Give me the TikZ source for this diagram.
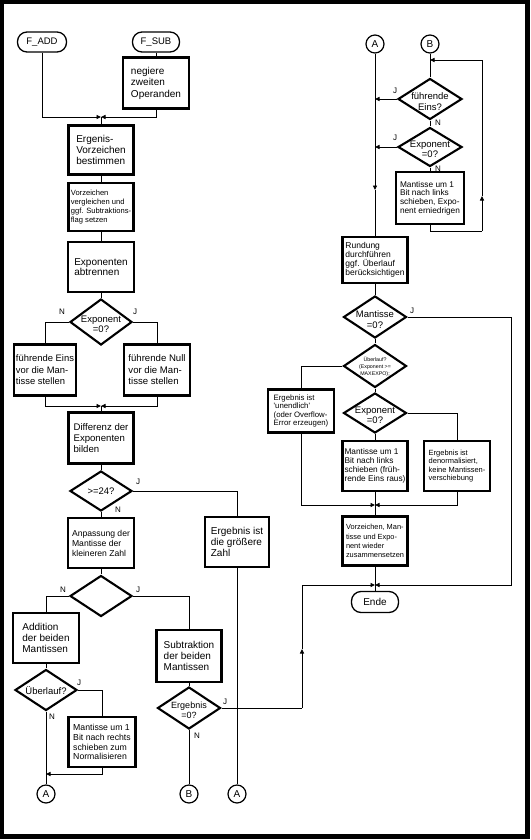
\documentclass[tikz,border=0pt]{standalone}
\usepackage{fontspec}
\setmainfont{Liberation Sans}
\usetikzlibrary{shapes.geometric,arrows.meta}
\newcommand\fsz[2]{\fontsize{#1}{#2}\selectfont}
\begin{document}
\begin{tikzpicture}[x=1pt,y=-1pt,
  box/.style={draw,line width=2.5pt,inner sep=0pt,align=left},
  dia/.style={draw,shape=diamond,line width=2.1pt,inner sep=0pt},
  dtext/.style={font=\fsz{9.5}{10.5},align=center,inner sep=0pt,yshift=-2.5pt},
  pill/.style={draw,line width=1.3pt,rounded corners=9.5pt,inner sep=0pt,minimum height=20,font=\fsz{9.5}{11}},
  circ/.style={draw,circle,line width=1.2pt,minimum size=18,inner sep=0pt,font=\fsz{10}{11}},
  conn/.style={line width=0.9pt},
  arr/.style={-{Triangle[length=4.5pt,width=4pt]}},
  lbl/.style={font=\fsz{8}{9},inner sep=0pt}
]
\useasboundingbox (0,0) rectangle (530,840);
\draw[line width=4.4pt] (2.2,2.2) rectangle (527.3,836.5);

% ---------------- left part ----------------
\node[pill,minimum width=49] (fadd) at (42,42) {F\_ADD};
\node[pill,minimum width=47] (fsub) at (156,42) {F\_SUB};
\node[box,minimum width=66,minimum height=51,font=\fsz{10}{11.5}] (neg) at (156,83) {negiere\\zweiten\\Operanden};
\node[box,minimum width=65,minimum height=49,font=\fsz{10}{11}] (erg) at (101,150) {Ergenis-\\Vorzeichen\\bestimmen};
\node[box,minimum width=65,minimum height=48,font=\fsz{7.6}{8.8}] (vgl) at (101,207) {Vorzeichen\\vergleichen und\\ggf. Subtraktions-\\flag setzen};
\node[box,minimum width=66,minimum height=50,font=\fsz{10}{10.5}] (abt) at (101,267) {Exponenten\\abtrennen};
\node[dia,minimum width=62,minimum height=46,label={[dtext]center:Exponent\\=0?}] (dex) at (101,322) {};
\node[box,minimum width=62,minimum height=51,font=\fsz{9.4}{11.5}] (eins) at (45,370) {führende Eins\\vor die Man-\\tisse stellen};
\node[box,minimum width=66,minimum height=51,font=\fsz{9.6}{11.5}] (null) at (157,370) {führende Null\\vor die Man-\\tisse stellen};
\node[box,minimum width=65,minimum height=51,font=\fsz{9.6}{11}] (diff) at (101,438) {Differenz der\\Exponenten\\bilden};
\node[dia,minimum width=62,minimum height=40,label={[dtext,yshift=2pt]center:>=24?}] (d24) at (101,491) {};
\node[box,minimum width=66,minimum height=50,font=\fsz{8.6}{10}] (anp) at (101,543) {Anpassung der\\Mantisse der\\kleineren Zahl};
\node[box,minimum width=64,minimum height=50,font=\fsz{10}{11}] (gz) at (237,542) {Ergebnis ist\\die größere\\Zahl};
\node[dia,minimum width=62,minimum height=41] (dmt) at (101,596) {};
\node[box,minimum width=66,minimum height=50,font=\fsz{10}{11}] (add) at (46,638) {Addition\\der beiden\\Mantissen};
\node[box,minimum width=65,minimum height=52,font=\fsz{10}{11}] (sub) at (189,656) {Subtraktion\\der beiden\\Mantissen};
\node[dia,minimum width=62,minimum height=41,label={[dtext,yshift=2pt]center:Überlauf?}] (dueb) at (46,690) {};
\node[box,minimum width=67,minimum height=50,font=\fsz{8.7}{9.8}] (rsh) at (102,742) {Mantisse um 1\\Bit nach rechts\\schieben zum\\Normalisieren};
\node[dia,minimum width=63,minimum height=42,label={[dtext,font=\fsz{9}{10.5}]center:Ergebnis\\=0?}] (derg) at (189,708) {};
\node[circ] (A1) at (46,794) {A};
\node[circ] (B1) at (189,794) {B};
\node[circ] (A2) at (237,794) {A};

% labels left
\node[lbl] (n1) at (62,312) {N};
\node[lbl] (j1) at (135,312) {J};
\node[lbl] (j2) at (138,482) {J};
\node[lbl] (n2) at (118,510) {N};
\node[lbl] (n3) at (63,590) {N};
\node[lbl] (j3) at (138,590) {J};
\node[lbl] (j4) at (79,683) {J};
\node[lbl] (n4) at (52,717) {N};
\node[lbl] (j5) at (225,702) {J};
\node[lbl] (n5) at (197,736) {N};

% connectors left
\coordinate (m1) at (101,117);
\draw[conn,arr] (fadd.south) |- (m1);
\draw[conn] (fsub.south) -- (neg.north);
\draw[conn,arr] (neg.south) |- (m1);
\draw[conn] (m1) -- (erg.north);
\draw[conn] (erg.south) -- (vgl.north);
\draw[conn] (vgl.south) -- (abt.north);
\draw[conn] (abt.south) -- (dex.north);
\draw[conn] (dex.west) -| (eins.north);
\draw[conn] (dex.east) -| (null.north);
\coordinate (m2) at (101,406);
\draw[conn,arr] (eins.south) |- (m2);
\draw[conn,arr] (null.south) |- (m2);
\draw[conn] (m2) -- (diff.north);
\draw[conn] (diff.south) -- (d24.north);
\draw[conn] (d24.east) -| (gz.north);
\draw[conn] (d24.south) -- (anp.north);
\draw[conn] (anp.south) -- (dmt.north);
\draw[conn] (dmt.west) -| (add.north);
\draw[conn] (dmt.east) -| (sub.north);
\draw[conn] (add.south) -- (dueb.north);
\draw[conn] (dueb.east) -| (rsh.north);
\coordinate (m5) at (46,774);
\draw[conn,arr] (rsh.south) |- (m5);
\draw[conn] (dueb.south) -- (A1.north);
\draw[conn] (sub.south) -- (derg.north);
\draw[conn] (derg.south) -- (B1.north);
\draw[conn] (gz.south) -- (A2.north);
\coordinate (c1) at (302,708);
\coordinate (c1m) at (302,649);
\coordinate (m3) at (375,585);
\draw[conn] (derg.east) -- (c1);
\draw[conn,arr] (c1) -- (c1m);
\draw[conn,arr] (c1m) |- (m3);

% ---------------- right part ----------------
\node[circ] (A3) at (375,44) {A};
\node[circ] (B2) at (430,44) {B};
\node[dia,minimum width=64,minimum height=41,label={[dtext]center:führende\\Eins?}] (dfe) at (430,99) {};
\node[dia,minimum width=64,minimum height=39,label={[dtext]center:Exponent\\=0?}] (dex2) at (430,147) {};
\node[box,minimum width=68,minimum height=52,font=\fsz{8.3}{8.7}] (lsh) at (430,198) {Mantisse um 1\\Bit nach links\\schieben, Expo-\\nent erniedrigen};
\node[box,minimum width=65,minimum height=46,font=\fsz{8.5}{9.2}] (rund) at (375,260) {Rundung\\durchführen\\ggf. Überlauf\\berücksichtigen};
\node[dia,minimum width=63,minimum height=42,label={[dtext]center:Mantisse\\=0?}] (dm0) at (375,317) {};
\node[dia,minimum width=63,minimum height=43,label={[dtext,yshift=1.5pt,font=\fsz{5.3}{7.3}]center:Überlauf?\\(Exponent >=\\MAXEXPO);}] (dov) at (375,366) {};
\node[box,minimum width=66,minimum height=43,font=\fsz{7.8}{8.5}] (unend) at (301,411) {Ergebnis ist\\\textquotesingle unendlich\textquotesingle\\(oder Overflow-\\Error erzeugen)};
\node[dia,minimum width=63,minimum height=40,label={[dtext]center:Exponent\\=0?}] (dex3) at (375,413) {};
\node[box,minimum width=65,minimum height=50,font=\fsz{8.3}{8.9}] (lsh2) at (375,466) {Mantisse um 1\\Bit nach links\\schieben (früh-\\rende Eins raus)};
\node[box,minimum width=66,minimum height=50,font=\fsz{7.5}{8.5}] (denorm) at (457,466) {Ergebnis ist\\denormalisiert,\\keine Mantissen-\\verschiebung};
\node[box,minimum width=65,minimum height=49,font=\fsz{7.4}{9.2}] (vms) at (375,541) {Vorzeichen, Man-\\tisse und Expo-\\nent wieder\\zusammensetzen};
\node[pill,minimum width=47,minimum height=21,font=\fsz{10}{11}] (ende) at (375,602) {Ende};

% labels right
\node[lbl] (j6) at (395,91) {J};
\node[lbl] (n6) at (438,123) {N};
\node[lbl] (j7) at (395,138) {J};
\node[lbl] (n7) at (438,169) {N};
\node[lbl] (j8) at (412,311) {J};

% connectors right
\coordinate (am) at (375,190);
\draw[conn,arr] (A3.south) -- (am);
\draw[conn] (am) -- (rund.north);
\coordinate (ja) at (375,99);
\coordinate (jb) at (375,147);
\draw[conn,arr] (dfe.west) -- (ja);
\draw[conn,arr] (dex2.west) -- (jb);
\draw[conn] (B2.south) -- (dfe.north);
\draw[conn] (dfe.south) -- (dex2.north);
\draw[conn] (dex2.south) -- (lsh.north);
\coordinate (l1) at (482,231);
\coordinate (l3) at (482,196);
\coordinate (lp) at (430,60);
\draw[conn] (lsh.south) |- (l1);
\draw[conn,arr] (l1) -- (l3);
\draw[conn,arr] (l3) |- (lp);
\draw[conn] (rund.south) -- (dm0.north);
\draw[conn] (dm0.south) -- (dov.north);
\coordinate (r1) at (511,585);
\draw[conn,arr] (dm0.east) -| (r1) -- (m3);
\draw[conn] (dov.west) -| (unend.north);
\draw[conn] (dov.south) -- (dex3.north);
\draw[conn] (dex3.south) -- (lsh2.north);
\draw[conn] (dex3.east) -| (denorm.north);
\coordinate (m4) at (375,505);
\draw[conn,arr] (unend.south) |- (m4);
\draw[conn,arr] (denorm.south) |- (m4);
\draw[conn] (lsh2.south) -- (vms.north);
\draw[conn] (vms.south) -- (ende.north);
\end{tikzpicture}
\end{document}
